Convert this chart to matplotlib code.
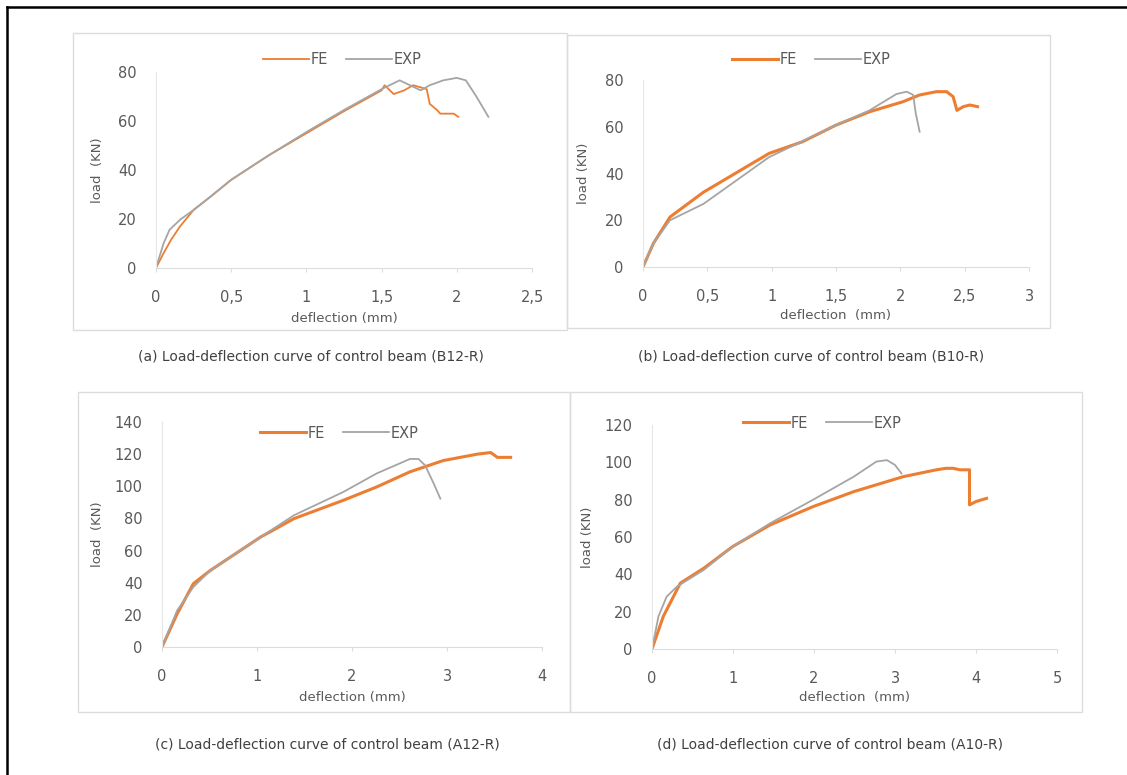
import matplotlib.pyplot as plt
from matplotlib.patches import Rectangle
from matplotlib.lines import Line2D

W, H = 1127, 775
FE_COLOR = "#ED7D31"
EXP_COLOR = "#A5A5A5"
TEXT_COLOR = "#595959"
FRAME_COLOR = "#DCDCDC"
FONT = ["Liberation Sans Narrow", "DejaVu Sans"]

# (a) control beam B12-R
A_FE_X = [0, 0.05, 0.1, 0.16, 0.25, 0.36, 0.5, 0.75, 1.0, 1.25, 1.5, 1.52, 1.58, 1.65, 1.71, 1.8, 1.82, 1.87, 1.89, 1.98, 2.01]
A_FE_Y = [0, 6, 11.5, 17, 23.7, 29, 36, 46, 55, 64, 72.5, 74.6, 71, 72.5, 74.6, 73, 67, 64.4, 63, 63, 61.7]
A_EXP_X = [0, 0.05, 0.09, 0.16, 0.25, 0.36, 0.5, 0.75, 1.0, 1.25, 1.5, 1.62, 1.76, 1.82, 1.91, 2.0, 2.06, 2.13, 2.21]
A_EXP_Y = [0, 10, 15.6, 19.7, 23.7, 29, 36, 46, 55.5, 64.5, 73, 76.6, 72.5, 74.6, 76.6, 77.6, 76.6, 70, 61.7]

# (b) control beam B10-R
B_FE_X = [0, 0.08, 0.21, 0.47, 0.98, 1.24, 1.5, 1.76, 2.02, 2.15, 2.28, 2.36, 2.41, 2.44, 2.49, 2.54, 2.6]
B_FE_Y = [0, 10, 21.4, 32, 48.6, 53.6, 60.7, 66.4, 70.7, 73.6, 75, 75, 72.9, 67, 68.6, 69.3, 68.6]
B_EXP_X = [0, 0.08, 0.21, 0.47, 0.98, 1.5, 1.76, 1.97, 2.05, 2.1, 2.12, 2.15]
B_EXP_Y = [0, 10, 20, 27, 47, 60.7, 67, 74, 75, 73.6, 65.7, 57.9]

# (c) control beam A12-R
C_FE_X = [0, 0.16, 0.33, 0.51, 1.04, 1.39, 1.91, 2.26, 2.61, 2.96, 3.32, 3.46, 3.53, 3.67]
C_FE_Y = [0, 20.7, 39.4, 47.7, 68.5, 79.9, 91.3, 99.6, 109, 116, 120, 121, 118, 118]
C_EXP_X = [0, 0.16, 0.33, 0.51, 1.04, 1.39, 1.91, 2.26, 2.61, 2.7, 2.77, 2.86, 2.93]
C_EXP_Y = [0, 22.8, 37.3, 47.7, 68.5, 82, 96.5, 108, 117, 117, 113, 101.7, 92.3]

# (d) control beam A10-R
D_FE_X = [0, 0.14, 0.35, 0.64, 1.0, 1.46, 1.99, 2.49, 3.1, 3.51, 3.63, 3.72, 3.8, 3.92, 3.92, 4.0, 4.13]
D_FE_Y = [0, 17.5, 35.3, 43.3, 55, 66.5, 76.3, 84.3, 92.3, 96, 96.8, 96.8, 96, 96, 77.2, 79, 80.7]
D_EXP_X = [0, 0.08, 0.18, 0.31, 0.64, 1.0, 1.46, 1.99, 2.49, 2.77, 2.9, 3.0, 3.08]
D_EXP_Y = [0, 17.5, 28, 33.5, 42.4, 55, 67.4, 80, 92.3, 100.4, 101.2, 98.6, 94]

PANELS = [
    dict(fe=(A_FE_X, A_FE_Y), exp=(A_EXP_X, A_EXP_Y), fe_lw=1.3,
         axes=(156, 72, 532, 268), frame=(73, 33, 567, 330),
         xmax=2.5, xticks=[0, 0.5, 1, 1.5, 2, 2.5], ymax=80, yticks=[0, 20, 40, 60, 80],
         xlabel="deflection (mm)", ylabel="load  (KN)", ylabel_x=97, xlabel_y=318,
         legend=(342, 60),
         caption="(a) Load-deflection curve of control beam (B12-R)", caption_xy=(311, 356)),
    dict(fe=(B_FE_X, B_FE_Y), exp=(B_EXP_X, B_EXP_Y), fe_lw=2.2,
         axes=(643, 80, 1029, 267), frame=(567, 35, 1050, 328),
         xmax=3, xticks=[0, 0.5, 1, 1.5, 2, 2.5, 3], ymax=80, yticks=[0, 20, 40, 60, 80],
         xlabel="deflection  (mm)", ylabel="load (KN)", ylabel_x=584, xlabel_y=316,
         legend=(811, 60),
         caption="(b) Load-deflection curve of control beam (B10-R)", caption_xy=(811, 356)),
    dict(fe=(C_FE_X, C_FE_Y), exp=(C_EXP_X, C_EXP_Y), fe_lw=2.2,
         axes=(162, 422, 542, 647), frame=(78, 392, 570, 712),
         xmax=4, xticks=[0, 1, 2, 3, 4], ymax=140, yticks=[0, 20, 40, 60, 80, 100, 120, 140],
         xlabel="deflection (mm)", ylabel="load  (KN)", ylabel_x=98, xlabel_y=698,
         legend=(339, 433),
         caption="(c) Load-deflection curve of control beam (A12-R)", caption_xy=(327, 744)),
    dict(fe=(D_FE_X, D_FE_Y), exp=(D_EXP_X, D_EXP_Y), fe_lw=2.2,
         axes=(652, 425, 1057, 649), frame=(570, 392, 1082, 712),
         xmax=5, xticks=[0, 1, 2, 3, 4, 5], ymax=120, yticks=[0, 20, 40, 60, 80, 100, 120],
         xlabel="deflection  (mm)", ylabel="load (KN)", ylabel_x=587, xlabel_y=698,
         legend=(822, 423),
         caption="(d) Load-deflection curve of control beam (A10-R)", caption_xy=(830, 744)),
]


def fx(px):
    return px / W


def fy(py):
    return 1 - py / H


def tick_text(v):
    return f"{v:g}".replace(".", ",")


fig = plt.figure(figsize=(W / 100, H / 100), dpi=100)

for p in PANELS:
    x0, y0, x1, y1 = p["frame"]
    fig.add_artist(Rectangle((fx(x0), fy(y1)), fx(x1 - x0), (y1 - y0) / H,
                             transform=fig.transFigure, fill=False,
                             edgecolor=FRAME_COLOR, linewidth=1.0))

    l, t, r, b = p["axes"]
    ax = fig.add_axes([fx(l), fy(b), fx(r - l), (b - t) / H])
    ax.plot(*p["fe"], color=FE_COLOR, lw=p["fe_lw"], label="FE")
    ax.plot(*p["exp"], color=EXP_COLOR, lw=1.3, label="EXP")

    ax.set_xlim(0, p["xmax"])
    ax.set_ylim(0, p["ymax"])
    ax.set_xticks(p["xticks"])
    ax.set_xticklabels([tick_text(v) for v in p["xticks"]])
    ax.set_yticks(p["yticks"])
    for s in ("top", "right"):
        ax.spines[s].set_visible(False)
    ax.spines["bottom"].set_color(FRAME_COLOR)
    ax.spines["left"].set_color("#E6E6E6")
    ax.tick_params(axis="x", length=3, color=FRAME_COLOR, pad=13,
                   labelsize=10.5, labelcolor=TEXT_COLOR)
    ax.tick_params(axis="y", length=0, pad=14, labelsize=10.5, labelcolor=TEXT_COLOR)
    for lab in ax.get_xticklabels() + ax.get_yticklabels():
        lab.set_family(FONT)

    fig.text(fx((l + r) / 2), fy(p["xlabel_y"]), p["xlabel"], ha="center", va="center",
             fontsize=9.5, color=TEXT_COLOR, family=FONT)
    fig.text(fx(p["ylabel_x"]), fy((t + b) / 2), p["ylabel"], ha="center", va="center",
             rotation=90, fontsize=9.5, color=TEXT_COLOR, family=FONT)

    lx, ly = p["legend"]
    ax.legend(loc="center", bbox_to_anchor=(fx(lx), fy(ly)), bbox_transform=fig.transFigure,
              ncol=2, frameon=False, handlelength=3.2, handletextpad=0.1, columnspacing=1.2,
              prop={"family": FONT, "size": 10.5}, labelcolor=TEXT_COLOR)

    cx, cy = p["caption_xy"]
    fig.text(fx(cx), fy(cy), p["caption"], ha="center", va="center",
             fontsize=10, color="#404040", family=FONT)

# black outer frame (only left and top edges fall inside the picture)
fig.add_artist(Line2D([fx(7), fx(7)], [0, fy(7)], transform=fig.transFigure, color="black", lw=1.8))
fig.add_artist(Line2D([fx(7), 1], [fy(7), fy(7)], transform=fig.transFigure, color="black", lw=1.8))

fig.savefig("out.png", dpi=100)
